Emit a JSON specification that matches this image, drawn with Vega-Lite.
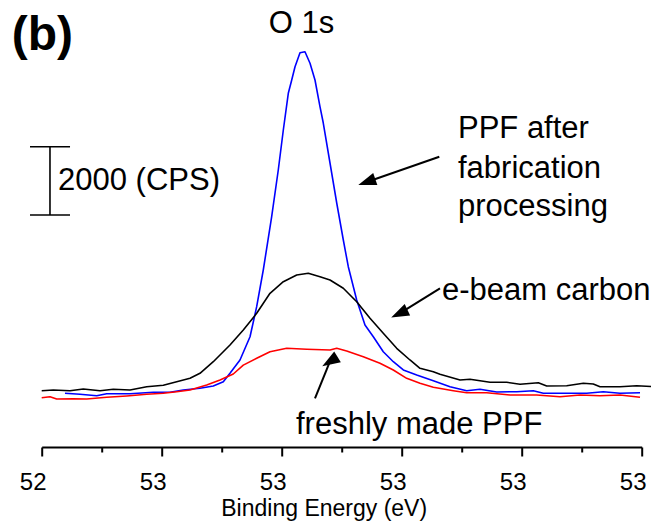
{
  "$schema": "https://vega.github.io/schema/vega-lite/v6.json",
  "width": 600,
  "height": 447,
  "autosize": {"type": "none"},
  "padding": {"left": 41.7, "top": 0, "right": 11.3, "bottom": 77},
  "background": "white",
  "config": {"view": {"stroke": null}, "font": "Liberation Sans"},
  "datasets": {
    "spectra": [
      {"series": "after", "be": 528.388, "cps": 1574}, {"series": "after", "be": 528.638, "cps": 1544}, {"series": "after", "be": 528.917, "cps": 1503}, {"series": "after", "be": 529.083, "cps": 1562}, {"series": "after", "be": 529.472, "cps": 1562}, {"series": "after", "be": 529.86, "cps": 1603}, {"series": "after", "be": 530.138, "cps": 1603}, {"series": "after", "be": 530.36, "cps": 1670}, {"series": "after", "be": 530.638, "cps": 1720}, {"series": "after", "be": 530.86, "cps": 1788}, {"series": "after", "be": 531.027, "cps": 1914}, {"series": "after", "be": 531.138, "cps": 2160}, {"series": "after", "be": 531.305, "cps": 2550}, {"series": "after", "be": 531.472, "cps": 3232}, {"series": "after", "be": 531.583, "cps": 4112}, {"series": "after", "be": 531.693, "cps": 5187}, {"series": "after", "be": 531.833, "cps": 6749}, {"series": "after", "be": 531.943, "cps": 8118}, {"series": "after", "be": 532.027, "cps": 9290}, {"series": "after", "be": 532.11, "cps": 10366}, {"series": "after", "be": 532.167, "cps": 10755}, {"series": "after", "be": 532.222, "cps": 11145}, {"series": "after", "be": 532.305, "cps": 11555}, {"series": "after", "be": 532.388, "cps": 11585}, {"series": "after", "be": 532.472, "cps": 11245}, {"series": "after", "be": 532.555, "cps": 10755}, {"series": "after", "be": 532.638, "cps": 9973}, {"series": "after", "be": 532.693, "cps": 9495}, {"series": "after", "be": 532.805, "cps": 8323}, {"series": "after", "be": 532.917, "cps": 7151}, {"series": "after", "be": 533.027, "cps": 6066}, {"series": "after", "be": 533.11, "cps": 5284}, {"series": "after", "be": 533.25, "cps": 4308}, {"series": "after", "be": 533.388, "cps": 3575}, {"series": "after", "be": 533.527, "cps": 3232}, {"series": "after", "be": 533.693, "cps": 2793}, {"series": "after", "be": 533.86, "cps": 2500}, {"series": "after", "be": 534.027, "cps": 2257}, {"series": "after", "be": 534.25, "cps": 2110}, {"series": "after", "be": 534.527, "cps": 1943}, {"series": "after", "be": 534.805, "cps": 1767}, {"series": "after", "be": 535.083, "cps": 1650}, {"series": "after", "be": 535.305, "cps": 1691}, {"series": "after", "be": 535.583, "cps": 1612}, {"series": "after", "be": 535.917, "cps": 1621}, {"series": "after", "be": 536.193, "cps": 1650}, {"series": "after", "be": 536.36, "cps": 1574}, {"series": "after", "be": 536.805, "cps": 1574}, {"series": "after", "be": 537.083, "cps": 1574}, {"series": "after", "be": 537.36, "cps": 1621}, {"series": "after", "be": 537.638, "cps": 1574}, {"series": "after", "be": 537.972, "cps": 1591},
      {"series": "ebeam", "be": 528.0, "cps": 1650}, {"series": "ebeam", "be": 528.193, "cps": 1670}, {"series": "ebeam", "be": 528.472, "cps": 1650}, {"series": "ebeam", "be": 528.693, "cps": 1700}, {"series": "ebeam", "be": 528.972, "cps": 1650}, {"series": "ebeam", "be": 529.193, "cps": 1691}, {"series": "ebeam", "be": 529.472, "cps": 1670}, {"series": "ebeam", "be": 529.75, "cps": 1767}, {"series": "ebeam", "be": 530.027, "cps": 1808}, {"series": "ebeam", "be": 530.25, "cps": 1914}, {"series": "ebeam", "be": 530.472, "cps": 2013}, {"series": "ebeam", "be": 530.638, "cps": 2160}, {"series": "ebeam", "be": 530.86, "cps": 2500}, {"series": "ebeam", "be": 531.138, "cps": 2989}, {"series": "ebeam", "be": 531.36, "cps": 3429}, {"series": "ebeam", "be": 531.583, "cps": 3918}, {"series": "ebeam", "be": 531.805, "cps": 4504}, {"series": "ebeam", "be": 532.027, "cps": 4844}, {"series": "ebeam", "be": 532.25, "cps": 5041}, {"series": "ebeam", "be": 532.443, "cps": 5090}, {"series": "ebeam", "be": 532.638, "cps": 4991}, {"series": "ebeam", "be": 532.805, "cps": 4894}, {"series": "ebeam", "be": 533.027, "cps": 4651}, {"series": "ebeam", "be": 533.25, "cps": 4258}, {"series": "ebeam", "be": 533.472, "cps": 3772}, {"series": "ebeam", "be": 533.693, "cps": 3332}, {"series": "ebeam", "be": 533.917, "cps": 2893}, {"series": "ebeam", "be": 534.138, "cps": 2550}, {"series": "ebeam", "be": 534.305, "cps": 2306}, {"series": "ebeam", "be": 534.527, "cps": 2207}, {"series": "ebeam", "be": 534.638, "cps": 2131}, {"series": "ebeam", "be": 534.972, "cps": 1964}, {"series": "ebeam", "be": 535.138, "cps": 1984}, {"series": "ebeam", "be": 535.472, "cps": 1896}, {"series": "ebeam", "be": 535.75, "cps": 1896}, {"series": "ebeam", "be": 535.972, "cps": 1837}, {"series": "ebeam", "be": 536.277, "cps": 1884}, {"series": "ebeam", "be": 536.417, "cps": 1788}, {"series": "ebeam", "be": 536.75, "cps": 1796}, {"series": "ebeam", "be": 537.027, "cps": 1867}, {"series": "ebeam", "be": 537.193, "cps": 1846}, {"series": "ebeam", "be": 537.305, "cps": 1767}, {"series": "ebeam", "be": 537.638, "cps": 1767}, {"series": "ebeam", "be": 537.917, "cps": 1796}, {"series": "ebeam", "be": 538.155, "cps": 1773},
      {"series": "fresh", "be": 528.0, "cps": 1445}, {"series": "fresh", "be": 528.138, "cps": 1474}, {"series": "fresh", "be": 528.25, "cps": 1407}, {"series": "fresh", "be": 528.527, "cps": 1415}, {"series": "fresh", "be": 528.75, "cps": 1407}, {"series": "fresh", "be": 529.083, "cps": 1457}, {"series": "fresh", "be": 529.417, "cps": 1495}, {"series": "fresh", "be": 529.75, "cps": 1544}, {"series": "fresh", "be": 530.027, "cps": 1574}, {"series": "fresh", "be": 530.25, "cps": 1621}, {"series": "fresh", "be": 530.472, "cps": 1670}, {"series": "fresh", "be": 530.75, "cps": 1817}, {"series": "fresh", "be": 530.972, "cps": 1964}, {"series": "fresh", "be": 531.193, "cps": 2139}, {"series": "fresh", "be": 531.36, "cps": 2400}, {"series": "fresh", "be": 531.583, "cps": 2599}, {"series": "fresh", "be": 531.805, "cps": 2793}, {"series": "fresh", "be": 532.083, "cps": 2893}, {"series": "fresh", "be": 532.417, "cps": 2863}, {"series": "fresh", "be": 532.805, "cps": 2843}, {"series": "fresh", "be": 532.917, "cps": 2893}, {"series": "fresh", "be": 533.083, "cps": 2813}, {"series": "fresh", "be": 533.36, "cps": 2646}, {"series": "fresh", "be": 533.638, "cps": 2453}, {"series": "fresh", "be": 533.86, "cps": 2257}, {"series": "fresh", "be": 534.083, "cps": 2013}, {"series": "fresh", "be": 534.305, "cps": 1867}, {"series": "fresh", "be": 534.527, "cps": 1750}, {"series": "fresh", "be": 534.86, "cps": 1650}, {"series": "fresh", "be": 535.083, "cps": 1591}, {"series": "fresh", "be": 535.417, "cps": 1591}, {"series": "fresh", "be": 535.805, "cps": 1524}, {"series": "fresh", "be": 536.25, "cps": 1524}, {"series": "fresh", "be": 536.638, "cps": 1474}, {"series": "fresh", "be": 536.972, "cps": 1524}, {"series": "fresh", "be": 537.305, "cps": 1503}, {"series": "fresh", "be": 537.638, "cps": 1524}, {"series": "fresh", "be": 537.972, "cps": 1457}
    ],
    "arrows": [
      {"id": "after", "x1": 534.627, "y1": 8508, "x2": 533.418, "y2": 7766},
      {"id": "ebeam", "x1": 534.638, "y1": 4651, "x2": 533.96, "y2": 3909},
      {"id": "fresh", "x1": 532.555, "y1": 1427, "x2": 532.803, "y2": 2503}
    ],
    "scalebar": [
      {"x1": 528.138, "x2": 528.138, "y1": 6799, "y2": 8801},
      {"x1": 527.805, "x2": 528.472, "y1": 8801, "y2": 8801},
      {"x1": 527.805, "x2": 528.472, "y1": 6799, "y2": 6799}
    ],
    "labels": [
      {"label": "O 1s", "x": 532.33, "y": 12133, "align": "c"},
      {"label": "2000 (CPS)", "x": 528.272, "y": 7532, "align": "l"},
      {"label": "PPF after", "x": 534.938, "y": 9047, "align": "l"},
      {"label": "fabrication", "x": 534.938, "y": 7875, "align": "l"},
      {"label": "processing", "x": 534.938, "y": 6770, "align": "l"},
      {"label": "e-beam carbon", "x": 534.672, "y": 4308, "align": "l"},
      {"label": "freshly made PPF", "x": 532.238, "y": 381, "align": "l"}
    ]
  },
  "resolve": {"axis": {"x": "independent"}},
  "layer": [
    {
      "data": {"name": "spectra"},
      "mark": {"type": "line", "strokeWidth": 1.6, "strokeJoin": "round"},
      "encoding": {
        "x": {"field": "be", "type": "quantitative",
          "scale": {"domain": [528, 538], "nice": false, "zero": false},
          "axis": {"values": [528, 530, 532, 534, 536, 538], "labelExpr": "floor(datum.value/10)",
            "labelFontSize": 24, "labelFont": "Liberation Sans", "labelColor": "black",
            "labelBaseline": "alphabetic", "labelPadding": 33, "labelOffset": -9, "labelFlush": false, "labelOverlap": false,
            "tickSize": 9, "tickWidth": 2, "tickColor": "black", "domainWidth": 2, "domainColor": "black", "grid": false,
            "title": "Binding Energy (eV)", "titleFontSize": 23, "titleFontWeight": "normal", "titleFont": "Liberation Sans",
            "titleColor": "black", "titleX": 282, "titleY": 68, "titleBaseline": "alphabetic", "titleAnchor": "middle", "titleAlign": "center"}},
        "y": {"field": "cps", "type": "quantitative", "scale": {"domain": [0, 13100], "nice": false, "zero": false}, "axis": null},
        "color": {"field": "series", "type": "nominal", "legend": null,
          "scale": {"domain": ["fresh", "after", "ebeam"], "range": ["#ff0000", "#0000ff", "#000000"]}}
      }
    },
    {
      "data": {"name": "scalebar"},
      "mark": {"type": "rule", "strokeWidth": 1.6, "color": "black"},
      "encoding": {
        "x": {"field": "x1", "type": "quantitative",
          "axis": {"values": [529, 531, 533, 535, 537], "labels": false, "domain": false, "tickSize": 5, "tickWidth": 2,
            "tickColor": "black", "title": null, "grid": false, "orient": "bottom"}},
        "x2": {"field": "x2"},
        "y": {"field": "y1", "type": "quantitative"},
        "y2": {"field": "y2"}
      }
    },
    {
      "data": {"name": "arrows"},
      "mark": {"type": "rule", "strokeWidth": 2, "color": "black"},
      "encoding": {
        "x": {"field": "x1", "type": "quantitative", "axis": null},
        "x2": {"field": "x2"},
        "y": {"field": "y1", "type": "quantitative"},
        "y2": {"field": "y2"}
      }
    },
    {
      "data": {"name": "arrows"},
      "mark": {"type": "point", "shape": "M0,-1L0.7,1L-0.7,1Z", "filled": true, "color": "black", "size": 324, "opacity": 1, "strokeWidth": 0},
      "encoding": {
        "x": {"field": "x2", "type": "quantitative", "axis": null},
        "y": {"field": "y2", "type": "quantitative"},
        "angle": {"field": "id", "type": "nominal", "scale": {"domain": ["after", "ebeam", "fresh"], "range": [250.7, 238.2, 22.1]}, "legend": null}
      }
    },
    {
      "data": {"name": "labels"},
      "transform": [{"filter": "datum.align == 'l'"}],
      "mark": {"type": "text", "fontSize": 31, "font": "Liberation Sans", "align": "left", "baseline": "alphabetic", "color": "black"},
      "encoding": {
        "x": {"field": "x", "type": "quantitative", "axis": null},
        "y": {"field": "y", "type": "quantitative"},
        "text": {"field": "label"}
      }
    },
    {
      "data": {"name": "labels"},
      "transform": [{"filter": "datum.align == 'c'"}],
      "mark": {"type": "text", "fontSize": 31, "font": "Liberation Sans", "align": "center", "baseline": "alphabetic", "color": "black"},
      "encoding": {
        "x": {"field": "x", "type": "quantitative", "axis": null},
        "y": {"field": "y", "type": "quantitative"},
        "text": {"field": "label"}
      }
    },
    {
      "data": {"values": [{"label": "(b)", "x": 527.5, "y": 11634}]},
      "mark": {"type": "text", "fontSize": 48, "fontWeight": "bold", "font": "Liberation Sans", "align": "left", "baseline": "alphabetic", "color": "black"},
      "encoding": {
        "x": {"field": "x", "type": "quantitative", "axis": null},
        "y": {"field": "y", "type": "quantitative"},
        "text": {"field": "label"}
      }
    }
  ]
}
